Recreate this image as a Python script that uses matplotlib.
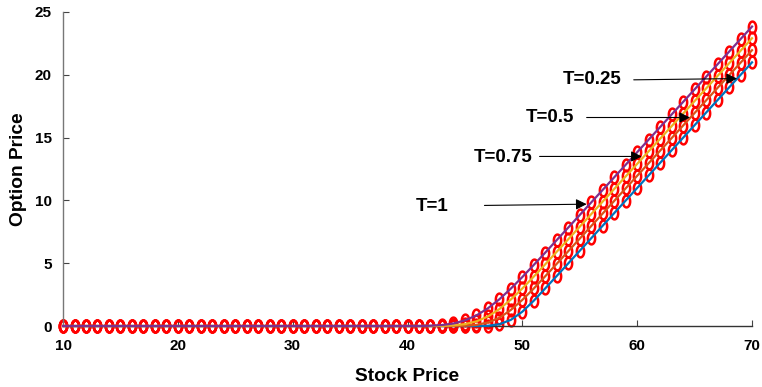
import numpy as np
import matplotlib.pyplot as plt
from matplotlib.path import Path

plt.rcParams['font.family'] = ['Liberation Sans', 'DejaVu Sans']
plt.rcParams['font.weight'] = 'bold'

# stock prices on the grid
stock = list(range(10, 71))

# option prices (S = 10 .. 70)
price_T1 = [0, 0, 0, 0, 0, 0, 0, 0, 0, 0,
            0, 0, 0, 0, 0, 0, 0, 0, 0, 0,
            0, 0, 0, 0, 0, 0, 0, 0, 0, 0,
            0, 0, 0.02, 0.08, 0.20, 0.45, 0.84, 1.41, 2.13, 2.98,
            3.90, 4.87, 5.85, 6.85, 7.84, 8.84, 9.84, 10.84, 11.84, 12.84,
            13.84, 14.84, 15.84, 16.84, 17.84, 18.84, 19.84, 20.84, 21.84, 22.84,
            23.84]
price_T075 = [0, 0, 0, 0, 0, 0, 0, 0, 0, 0,
              0, 0, 0, 0, 0, 0, 0, 0, 0, 0,
              0, 0, 0, 0, 0, 0, 0, 0, 0, 0,
              0, 0, 0, 0.01, 0.05, 0.15, 0.37, 0.76, 1.35, 2.11,
              2.99, 3.94, 4.92, 5.92, 6.91, 7.91, 8.91, 9.91, 10.91, 11.91,
              12.91, 13.91, 14.91, 15.91, 16.91, 17.91, 18.91, 19.91, 20.91, 21.91,
              22.91]
price_T05 = [0, 0, 0, 0, 0, 0, 0, 0, 0, 0,
             0, 0, 0, 0, 0, 0, 0, 0, 0, 0,
             0, 0, 0, 0, 0, 0, 0, 0, 0, 0,
             0, 0, 0, 0, 0, 0.02, 0.09, 0.28, 0.65, 1.28,
             2.08, 2.99, 3.97, 4.96, 5.96, 6.96, 7.96, 8.96, 9.96, 10.96,
             11.96, 12.96, 13.96, 14.96, 15.96, 16.96, 17.96, 18.96, 19.96, 20.96,
             21.96]
price_T025 = [0, 0, 0, 0, 0, 0, 0, 0, 0, 0,
              0, 0, 0, 0, 0, 0, 0, 0, 0, 0,
              0, 0, 0, 0, 0, 0, 0, 0, 0, 0,
              0, 0, 0, 0, 0, 0, 0, 0.02, 0.14, 0.49,
              1.14, 2.02, 3.00, 3.99, 4.99, 5.99, 6.99, 7.99, 8.99, 9.99,
              10.99, 11.99, 12.99, 13.99, 14.99, 15.99, 16.99, 17.99, 18.99, 19.99,
              20.99]

series = [price_T025, price_T05, price_T075, price_T1]
colors = ['#0072BD', '#D95319', '#EDB120', '#7E2F8E']

# tall ellipse marker
t = np.linspace(0, 2 * np.pi, 40)
ell = Path(np.column_stack([0.62 * np.cos(t), np.sin(t)]), closed=True)

fig = plt.figure(figsize=(7.62, 3.87), dpi=100)
ax = fig.add_axes([0.0827, 0.1576, 0.9042, 0.8114])

for vals in series:
    ax.plot(stock, vals, linestyle='none', marker=ell, markersize=8.5,
            markerfacecolor='none', markeredgecolor='red', markeredgewidth=1.8,
            clip_on=False, zorder=2)
for vals, c in zip(series, colors):
    ax.plot(stock, vals, color=c, lw=1.6, clip_on=False, zorder=3)

ax.set_xlim(10, 70)
ax.set_ylim(0, 25)
ax.set_xticks([10, 20, 30, 40, 50, 60, 70])
ax.set_yticks([0, 5, 10, 15, 20, 25])
for s in ['top', 'right']:
    ax.spines[s].set_visible(False)
ax.spines['left'].set_color('#777777')
ax.spines['bottom'].set_color('#333333')
ax.spines['left'].set_linewidth(1.0)
ax.spines['bottom'].set_linewidth(1.0)
ax.tick_params(direction='in', length=4, color='#444444', labelsize=11)
ax.tick_params(axis='x', pad=9)
ax.tick_params(axis='y', pad=8)
for lab in ax.get_xticklabels() + ax.get_yticklabels():
    lab.set_fontweight('bold')

ax.set_xlabel('Stock Price', fontsize=13.8, fontweight='bold', labelpad=11)
ax.set_ylabel('Option Price', fontsize=13.8, fontweight='bold', labelpad=6)

# labels with arrows
notes = [('T=0.25', (56.1, 19.6), (59.7, 19.6), (68.7, 19.7)),
         ('T=0.5', (52.4, 16.6), (55.6, 16.6), (64.6, 16.6)),
         ('T=0.75', (48.3, 13.4), (51.5, 13.5), (60.4, 13.5)),
         ('T=1', (42.1, 9.5), (46.7, 9.6), (55.6, 9.7))]
for txt, tpos, start, tip in notes:
    ax.text(tpos[0], tpos[1], txt, fontsize=13.5, fontweight='bold',
            ha='center', va='center', zorder=5)
    ax.annotate('', xy=tip, xytext=start,
                arrowprops=dict(arrowstyle='-|>', color='k', lw=0.8,
                                mutation_scale=16, shrinkA=0, shrinkB=0),
                zorder=5)

fig.savefig('out.png', dpi=100)
